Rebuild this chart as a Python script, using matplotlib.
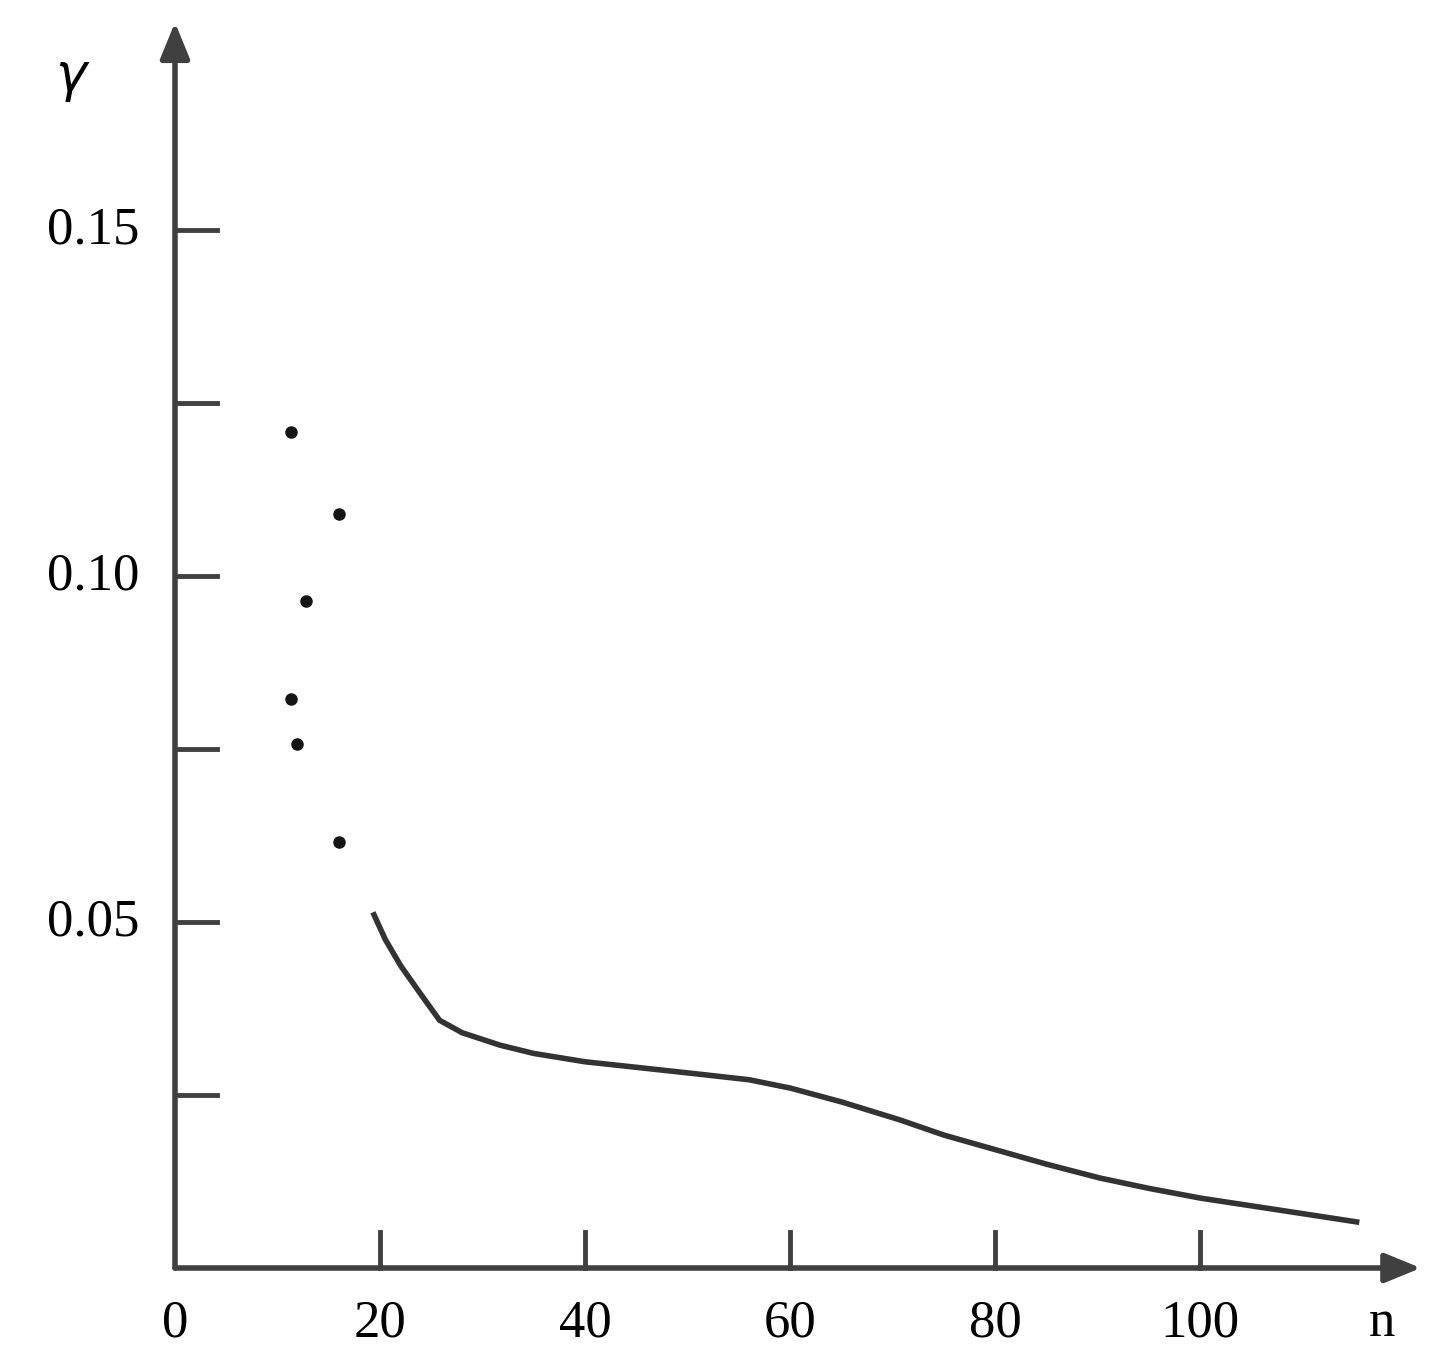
import matplotlib
matplotlib.use("Agg")
import matplotlib.pyplot as plt
import numpy as np

pts_n = [11.3, 16.0, 12.8, 11.3, 11.9, 16.0]
pts_g = [0.1208, 0.109, 0.0964, 0.0822, 0.0757, 0.0616]
curve_n = [19.3, 20.5, 22, 24, 25.8, 28, 31.7, 35, 40, 45, 51.2, 56, 60, 65, 70.7, 75, 80, 85, 90.2, 95, 100, 108, 115.5]
curve_g = [0.0514, 0.0475, 0.0437, 0.0395, 0.0358, 0.0340, 0.0322, 0.0310, 0.0298, 0.0290, 0.0280, 0.0272, 0.0260, 0.0240, 0.0214, 0.0192, 0.0171, 0.0150, 0.0130, 0.0115, 0.0101, 0.0083, 0.0066]
xticks = [20, 40, 60, 80, 100]
yticks = [0.025, 0.05, 0.075, 0.10, 0.125, 0.15]
ylabels = {0.05: "0.05", 0.10: "0.10", 0.15: "0.15"}

col = "#404040"
fig = plt.figure(figsize=(14.48, 13.68), dpi=100)
ax = fig.add_axes([175/1448, 100/1368, 1251/1448, 1245.6/1368])
ax.set_xlim(0, 122)
ax.set_ylim(0, 0.18)
ax.axis("off")

arrow = dict(arrowstyle="-|>,head_length=2.2,head_width=0.9", color=col, lw=4, shrinkA=0, shrinkB=0)
ax.annotate("", xy=(0, 0.1800), xytext=(0, 0), arrowprops=arrow, annotation_clip=False)
ax.annotate("", xy=(121.5, 0), xytext=(0, 0), arrowprops=arrow, annotation_clip=False)

for y in yticks:
    ax.plot([0, 4.1], [y, y], color=col, lw=3.5, clip_on=False)
for y, s in ylabels.items():
    ax.text(-3.5, y, s, ha="right", va="center", fontsize=38, family="Liberation Serif")
for x in xticks:
    ax.plot([x, x], [0, 0.0052], color=col, lw=3.5, clip_on=False)
    ax.text(x, -0.0045, str(x), ha="center", va="top", fontsize=38, family="Liberation Serif")
ax.text(0, -0.0045, "0", ha="center", va="top", fontsize=38, family="Liberation Serif")
ax.text(117.7, -0.0045, "n", ha="center", va="top", fontsize=38, family="Liberation Serif")
ax.text(-10, 0.172, r"$\gamma$", ha="center", va="center", fontsize=38)

ax.plot(pts_n, pts_g, "o", color="#151515", ms=8, clip_on=False)
ax.plot(curve_n, curve_g, color="#333333", lw=4, solid_capstyle="butt")
fig.savefig("out.png", dpi=100)
